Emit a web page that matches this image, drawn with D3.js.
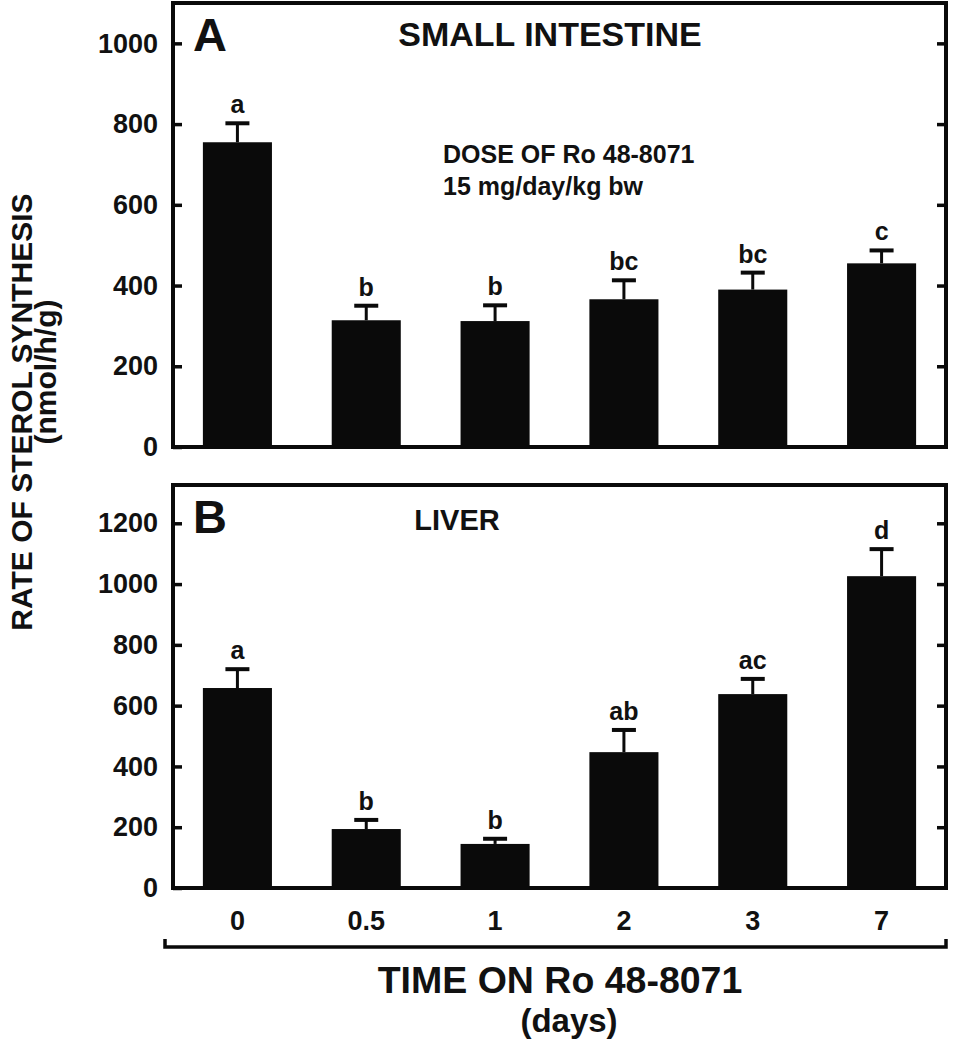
<!DOCTYPE html>
<html><head><meta charset="utf-8">
<script src="https://cdn.jsdelivr.net/npm/d3@7"></script>
<style>body{margin:0;background:#fff;} svg{display:block;} text{font-family:"Liberation Sans",Arial,sans-serif;font-weight:bold;fill:#111;}</style>
</head><body>
<script>
const categories = ["0","0.5","1","2","3","7"];
const intestineMeans = [755, 314, 312, 366, 390, 455];
const intestineErrors = [47, 36, 39, 47, 42, 32];
const intestineLetters = ["a","b","b","bc","bc","c"];
const liverMeans = [658, 194, 145, 447, 638, 1026];
const liverErrors = [62, 30, 17, 73, 50, 89];
const liverLetters = ["a","b","b","ab","ac","d"];
const intestineTicks = [0,200,400,600,800,1000];
const liverTicks = [0,200,400,600,800,1000,1200];

const W=961,H=1050;
const svg=d3.select("body").append("svg").attr("width",W).attr("height",H);
const xL=173,xR=946;
const x=d3.scaleBand().domain(categories).range([xL,xR]).paddingInner(0.464).paddingOuter(0.232);
const ink="#0a0a0a";

function panel(cfg){
  const y=d3.scaleLinear().domain([0,cfg.max]).range([cfg.bottom,cfg.top]);
  const g=svg.append("g");
  g.selectAll("rect.bar").data(cfg.means).join("rect").attr("class","bar")
    .attr("x",(d,i)=>x(categories[i])).attr("width",x.bandwidth())
    .attr("y",d=>y(d)).attr("height",d=>cfg.bottom-y(d)).attr("fill",ink);
  cfg.means.forEach((m,i)=>{
    const cx=x(categories[i])+x.bandwidth()/2;
    const yt=y(m+cfg.errs[i]);
    g.append("line").attr("x1",cx).attr("x2",cx).attr("y1",y(m)).attr("y2",yt).attr("stroke",ink).attr("stroke-width",3);
    g.append("line").attr("x1",cx-12).attr("x2",cx+12).attr("y1",yt).attr("y2",yt).attr("stroke",ink).attr("stroke-width",4);
    g.append("text").attr("x",cx).attr("y",yt-10).attr("text-anchor","middle").attr("font-size",25).text(cfg.letters[i]);
  });
  const la=d3.axisLeft(y).tickValues(cfg.ticks).tickSize(-9).tickPadding(15).tickFormat(d3.format("d"));
  const ga=g.append("g").attr("transform",`translate(${xL},0)`).call(la);
  ga.select(".domain").remove();
  ga.selectAll(".tick line").attr("stroke",ink).attr("stroke-width",3.5);
  ga.selectAll(".tick text").attr("font-size",27).attr("fill","#111").style("font-family","'Liberation Sans',Arial,sans-serif").style("font-weight","bold");
  const ra=d3.axisRight(y).tickValues(cfg.ticks.filter(t=>t>0)).tickSize(-9).tickFormat("");
  const gr=g.append("g").attr("transform",`translate(${xR},0)`).call(ra);
  gr.select(".domain").remove();
  gr.selectAll(".tick line").attr("stroke",ink).attr("stroke-width",3.5);
  g.append("rect").attr("x",xL).attr("y",cfg.top).attr("width",xR-xL).attr("height",cfg.bottom-cfg.top)
    .attr("fill","none").attr("stroke",ink).attr("stroke-width",4);
  g.append("text").attr("x",193).attr("y",cfg.letterY).attr("font-size",47).text(cfg.letter);
  g.append("text").attr("x",cfg.titleX).attr("y",cfg.titleY).attr("text-anchor","middle").attr("font-size",cfg.titleSize).text(cfg.title);
  return y;
}

panel({max:1100,top:3,bottom:447,means:intestineMeans,errs:intestineErrors,letters:intestineLetters,ticks:intestineTicks,letter:"A",letterY:51,title:"SMALL INTESTINE",titleX:550,titleY:46,titleSize:34});
panel({max:1326,top:485,bottom:888,means:liverMeans,errs:liverErrors,letters:liverLetters,ticks:liverTicks,letter:"B",letterY:533,title:"LIVER",titleX:457,titleY:530,titleSize:29});

svg.append("text").attr("x",443).attr("y",163).attr("font-size",25).text("DOSE OF Ro 48-8071");
svg.append("text").attr("x",443).attr("y",195).attr("font-size",25).text("15 mg/day/kg bw");

svg.append("g").selectAll("text").data(categories).join("text")
  .attr("x",d=>x(d)+x.bandwidth()/2).attr("y",930).attr("text-anchor","middle").attr("font-size",27).text(d=>d);

svg.append("path").attr("d","M165,939 V947 H946 V939").attr("fill","none").attr("stroke",ink).attr("stroke-width",3.5);

svg.append("text").attr("x",560).attr("y",993).attr("text-anchor","middle").attr("font-size",37.5).text("TIME ON Ro 48-8071");
svg.append("text").attr("x",569).attr("y",1032).attr("text-anchor","middle").attr("font-size",33).text("(days)");

svg.append("text").attr("transform","translate(32,412) rotate(-90)").attr("text-anchor","middle").attr("font-size",30).text("RATE OF STEROL SYNTHESIS");
svg.append("text").attr("transform","translate(56,372) rotate(-90)").attr("text-anchor","middle").attr("font-size",30).text("(nmol/h/g)");
</script>
</body></html>
